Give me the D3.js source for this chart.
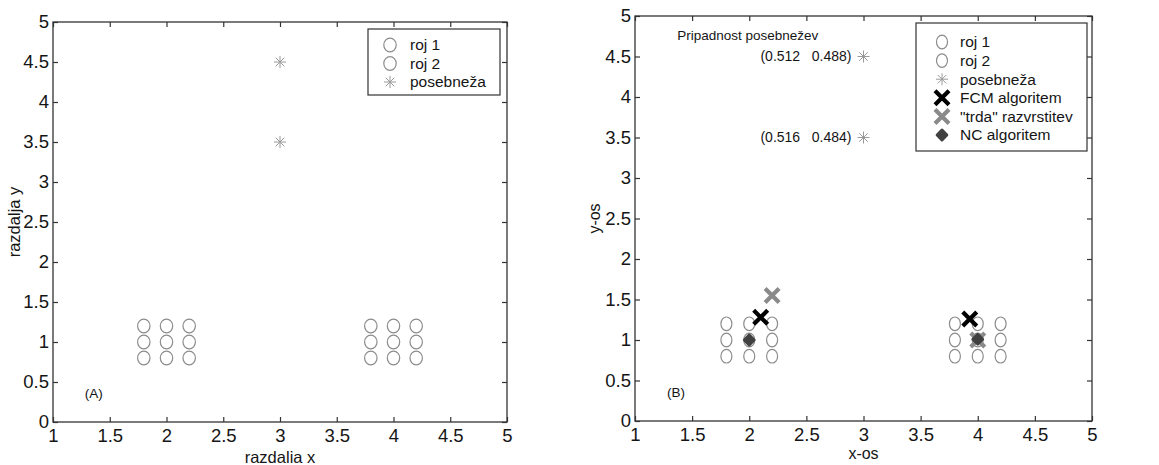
<!DOCTYPE html>
<html>
<head>
<meta charset="utf-8">
<script src="https://cdn.jsdelivr.net/npm/d3@7"></script>
<style>
  html, body { margin: 0; padding: 0; background: #fff; }
  svg { display: block; font-family: "Liberation Sans", Arial, sans-serif; }
</style>
</head>
<body>
<svg id="chart" width="1159" height="465"></svg>
<script>
// ---- data ----
const xTicks = [1, 1.5, 2, 2.5, 3, 3.5, 4, 4.5, 5];
const yTicks = [0, 0.5, 1, 1.5, 2, 2.5, 3, 3.5, 4, 4.5, 5];

// two 3x3 groups of points
const roj1 = [[1.8, 0.8], [1.8, 1.0], [1.8, 1.2],
              [2.0, 0.8], [2.0, 1.0], [2.0, 1.2],
              [2.2, 0.8], [2.2, 1.0], [2.2, 1.2]];
const roj2 = [[3.8, 0.8], [3.8, 1.0], [3.8, 1.2],
              [4.0, 0.8], [4.0, 1.0], [4.0, 1.2],
              [4.2, 0.8], [4.2, 1.0], [4.2, 1.2]];
// outliers
const posebneze = [[3, 4.5], [3, 3.5]];
// memberships of each outlier in the two clusters
const pripadnosti = [["0.512", "0.488"], ["0.516", "0.484"]];

// cluster centres found by each method
const fcmCentri = [[2.1, 1.28], [3.93, 1.26]];
const trdaCentri = [[2.2, 1.55], [4.0, 1.0]];
const ncCentri = [[2.0, 1.0], [4.0, 1.01]];

const legendA = ["roj 1", "roj 2", "posebneža"];
const legendB = ["roj 1", "roj 2", "posebneža", "FCM algoritem", "\"trda\" razvrstitev", "NC algoritem"];

// ---- drawing ----
const svg = d3.select("#chart");
const FRAME = "#333";
const CIRC = "#8c8c8c";
const STAR = "#9a9a9a";
const GRAYX = "#8a8a8a";
const NC = "#404040";
const INK = "#151515";

function starPath(r) {
  const d = r * Math.SQRT1_2;
  return `M${-r},0L${r},0M0,${-r}L0,${r}M${-d},${-d}L${d},${d}M${-d},${d}L${d},${-d}`;
}
function crossPath(r) {
  return `M${-r},${-r}L${r},${r}M${-r},${r}L${r},${-r}`;
}

const markers = {
  circle: (g, rx, ry) => g.append("ellipse").attr("rx", rx).attr("ry", ry)
      .attr("fill", "none").attr("stroke", CIRC).attr("stroke-width", 1.2),
  star: (g) => g.append("path").attr("d", starPath(6))
      .attr("fill", "none").attr("stroke", STAR).attr("stroke-width", 1),
  fcm: (g) => g.append("path").attr("d", crossPath(7))
      .attr("fill", "none").attr("stroke", "#000").attr("stroke-width", 4.2),
  trda: (g) => g.append("path").attr("d", crossPath(7))
      .attr("fill", "none").attr("stroke", GRAYX).attr("stroke-width", 4.2),
  nc: (g) => g.append("path").attr("d", d3.symbol(d3.symbolDiamond2, 60)())
      .attr("fill", NC).attr("stroke", NC).attr("stroke-width", 3)
      .attr("stroke-linejoin", "round")
};

function panel(opt) {
  const x = d3.scaleLinear().domain([1, 5]).range([opt.left, opt.right]);
  const y = d3.scaleLinear().domain([0, 5]).range([opt.bottom, opt.top]);
  const g = svg.append("g");

  // frame
  g.append("rect")
    .attr("x", opt.left).attr("y", opt.top)
    .attr("width", opt.right - opt.left).attr("height", opt.bottom - opt.top)
    .attr("fill", "none").attr("stroke", FRAME).attr("stroke-width", 1.3);

  const fmt = d => d3.format("")(d);
  const styleAxis = a => {
    a.select(".domain").remove();
    a.selectAll(".tick line").attr("stroke", FRAME).attr("stroke-width", 1.2);
    a.selectAll(".tick text").attr("fill", INK).attr("font-size", 18.5)
      .attr("font-family", "'Liberation Sans', Arial, sans-serif");
  };

  g.append("g").attr("transform", `translate(0,${opt.bottom})`)
    .call(d3.axisBottom(x).tickValues(xTicks).tickSize(-5).tickPadding(7).tickFormat(fmt))
    .call(styleAxis);
  g.append("g").attr("transform", `translate(0,${opt.top})`)
    .call(d3.axisTop(x).tickValues(xTicks).tickSize(-5).tickFormat(""))
    .call(styleAxis);
  g.append("g").attr("transform", `translate(${opt.left},0)`)
    .call(d3.axisLeft(y).tickValues(yTicks).tickSize(-5).tickPadding(4).tickFormat(fmt))
    .call(styleAxis);
  g.append("g").attr("transform", `translate(${opt.right},0)`)
    .call(d3.axisRight(y).tickValues(yTicks).tickSize(-5).tickFormat(""))
    .call(styleAxis);

  // axis titles
  g.append("text")
    .attr("x", (opt.left + opt.right) / 2).attr("y", opt.xTitleY)
    .attr("text-anchor", "middle").attr("font-size", opt.titleSize).attr("fill", INK)
    .text(opt.xTitle);
  g.append("text")
    .attr("transform", `translate(${opt.yTitleX},${y(2.5)}) rotate(-90)`)
    .attr("text-anchor", "middle").attr("font-size", opt.titleSize).attr("fill", INK)
    .text(opt.yTitle);

  // panel tag
  g.append("text").attr("x", x(1.28)).attr("y", y(0.3))
    .attr("font-size", 13.5).attr("fill", INK).text(opt.tag);

  // points
  const pts = (data, kind) => {
    data.forEach(d => {
      const m = g.append("g").attr("transform", `translate(${x(d[0])},${y(d[1])})`);
      markers[kind](m, opt.rx, opt.ry);
    });
  };
  pts(roj1, "circle");
  pts(roj2, "circle");
  pts(posebneze, "star");
  if (opt.centres) {
    pts(trdaCentri, "trda");
    pts(fcmCentri, "fcm");
    pts(ncCentri, "nc");
  }
  if (opt.annotate) {
    g.append("text").attr("x", x(1.37)).attr("y", y(4.7))
      .attr("font-size", 13.5).attr("fill", INK).text("Pripadnost posebnežev");
    posebneze.forEach((p, i) => {
      g.append("text").attr("x", x(p[0]) - 12).attr("y", y(p[1]))
        .attr("dy", "0.35em").attr("text-anchor", "end")
        .attr("font-size", 14).attr("fill", INK).style("white-space", "pre")
        .text(`(${pripadnosti[i][0]}   ${pripadnosti[i][1]})`);
    });
  }

  // legend
  const L = opt.legend;
  const lg = g.append("g");
  lg.append("rect").attr("x", L.x).attr("y", L.y).attr("width", L.w)
    .attr("height", L.h).attr("fill", "#fff").attr("stroke", FRAME).attr("stroke-width", 1.2);
  const kinds = ["circle", "circle", "star", "fcm", "trda", "nc"];
  L.labels.forEach((lab, i) => {
    const cy = L.y + L.first + i * L.step;
    const m = lg.append("g").attr("transform", `translate(${L.x + L.mx},${cy})`);
    markers[kinds[i]](m, opt.rx, opt.ry);
    lg.append("text").attr("x", L.x + L.tx).attr("y", cy).attr("dy", "0.35em")
      .attr("font-size", 15.5).attr("fill", INK).text(lab);
  });
}

panel({
  left: 53, right: 507, top: 22, bottom: 422,
  xTitle: "razdalia x", yTitle: "razdalja y", xTitleY: 463, yTitleX: 20, titleSize: 16.5,
  tag: "(A)", rx: 6.2, ry: 6.8,
  legend: { x: 368, y: 29, w: 132, h: 66, first: 16, step: 18.5, mx: 22, tx: 42, labels: legendA }
});

panel({
  left: 635, right: 1092, top: 16, bottom: 421,
  xTitle: "x-os", yTitle: "y-os", xTitleY: 459, yTitleX: 600, titleSize: 16,
  tag: "(B)", rx: 5.5, ry: 6.8, centres: true, annotate: true,
  legend: { x: 916, y: 23, w: 171, h: 128, first: 19, step: 18.6, mx: 26, tx: 44, labels: legendB }
});
</script>
</body>
</html>
